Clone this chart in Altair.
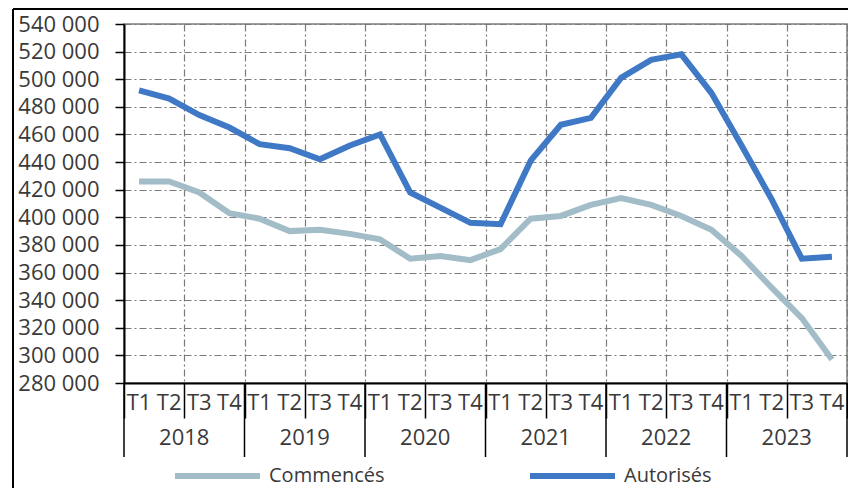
import altair as alt
import pandas as pd

years = [2018, 2019, 2020, 2021, 2022, 2023]
quarters = ["T1", "T2", "T3", "T4"]
autorises = [492000, 486000, 474000, 465000, 453000, 450000, 442000, 452000,
             460000, 418000, 407000, 396000, 395000, 441000, 467000, 472000,
             501000, 514000, 518000, 490000, 452000, 413000, 370000, 371500]
commences = [426000, 426000, 418000, 403000, 399000, 390000, 391000, 388000,
             384000, 370000, 372000, 369000, 377000, 399000, 401000, 409000,
             414000, 409000, 401000, 391000, 372000, 349000, 327000, 297000]
series_names = ["Commencés", "Autorisés"]
series_colors = ["#A2BDC7", "#3F79C6"]
y_ticks = list(range(280000, 540001, 20000))

FONT = "Open Sans"
TXT = "#3a3a3a"
W, H = 723, 359

rows = []
for i in range(len(autorises)):
    y = years[i // 4]
    q = quarters[i % 4]
    rows.append({"pos": i + 0.5, "year": y, "q": q, "serie": "Commencés", "value": commences[i]})
    rows.append({"pos": i + 0.5, "year": y, "q": q, "serie": "Autorisés", "value": autorises[i]})
df = pd.DataFrame(rows)

qdf = pd.DataFrame({"pos": [i + 0.5 for i in range(len(autorises))],
                    "q": [quarters[i % 4] for i in range(len(autorises))]})
ydf = pd.DataFrame({"pos": [4 * k + 2 for k in range(len(years))], "year": [str(y) for y in years]})
sep = pd.DataFrame({"pos": [4 * k for k in range(len(years) + 1)]})

xscale = alt.Scale(domain=[0, 24], nice=False, zero=False)
yscale = alt.Scale(domain=[280000, 540000], nice=False, zero=False)

xaxis = alt.Axis(values=list(range(25)), labels=False, title=None,
                 grid=True, gridColor="#7a7a7a", gridDash=[7, 3, 2, 3], gridWidth=1.2,
                 ticks=True, tickSize=35, tickColor="#000000", tickWidth=1.5,
                 domainColor="#000000", domainWidth=2)
yaxis = alt.Axis(values=y_ticks, title=None,
                 labelExpr="replace(format(datum.value, ','), ',', ' ')",
                 labelFont=FONT, labelFontSize=22, labelColor=TXT, labelPadding=16,
                 grid=True, gridColor="#7a7a7a", gridDash=[7, 3, 2, 3], gridWidth=1.2,
                 tickSize=9, tickColor="#000000", tickWidth=1.5,
                 domainColor="#000000", domainWidth=2)

lines = alt.Chart(df).mark_line(strokeWidth=6, strokeCap="butt", strokeJoin="miter").encode(
    x=alt.X("pos:Q", scale=xscale, axis=xaxis),
    y=alt.Y("value:Q", scale=yscale, axis=yaxis),
    color=alt.Color("serie:N",
                    scale=alt.Scale(domain=series_names, range=series_colors),
                    sort=series_names,
                    legend=alt.Legend(title=None, orient="none", direction="horizontal",
                                      legendX=48, legendY=438, clipHeight=28,
                                      symbolType="stroke", symbolSize=7225,
                                      symbolStrokeWidth=6,
                                      labelFont=FONT, labelFontSize=20, labelColor=TXT,
                                      labelOffset=6, columnPadding=142, padding=0)),
    detail="serie:N",
)

qlabels = alt.Chart(qdf).mark_text(font=FONT, fontSize=22, color=TXT, baseline="middle").encode(
    x=alt.X("pos:Q", scale=xscale), y=alt.value(H + 20), text="q:N")

ylabels = alt.Chart(ydf).mark_text(font=FONT, fontSize=22, color=TXT, baseline="middle").encode(
    x=alt.X("pos:Q", scale=xscale), y=alt.value(H + 55), text="year:N")

seps = alt.Chart(sep).mark_rule(color="#000000", strokeWidth=1.5).encode(
    x=alt.X("pos:Q", scale=xscale), y=alt.value(H), y2=alt.value(H + 74))

frame_left = alt.Chart(sep).mark_rule(color="#000000", strokeWidth=1.5).encode(
    x=alt.value(-111), y=alt.value(-15), y2=alt.value(470))
frame_top = alt.Chart(sep).mark_rule(color="#000000", strokeWidth=1.5).encode(
    x=alt.value(-111), x2=alt.value(W + 10), y=alt.value(-15))

chart = alt.layer(lines, qlabels, ylabels, seps, frame_left, frame_top).properties(
    width=W, height=H,
    autosize=alt.AutoSizeParams(type="none"),
    padding={"left": 116, "top": 16, "right": 1, "bottom": 105},
    background="#ffffff",
).configure_view(stroke="#7f7f7f", strokeWidth=1.5)

chart.save("out.html", embed_options={"renderer": "svg", "actions": False})
